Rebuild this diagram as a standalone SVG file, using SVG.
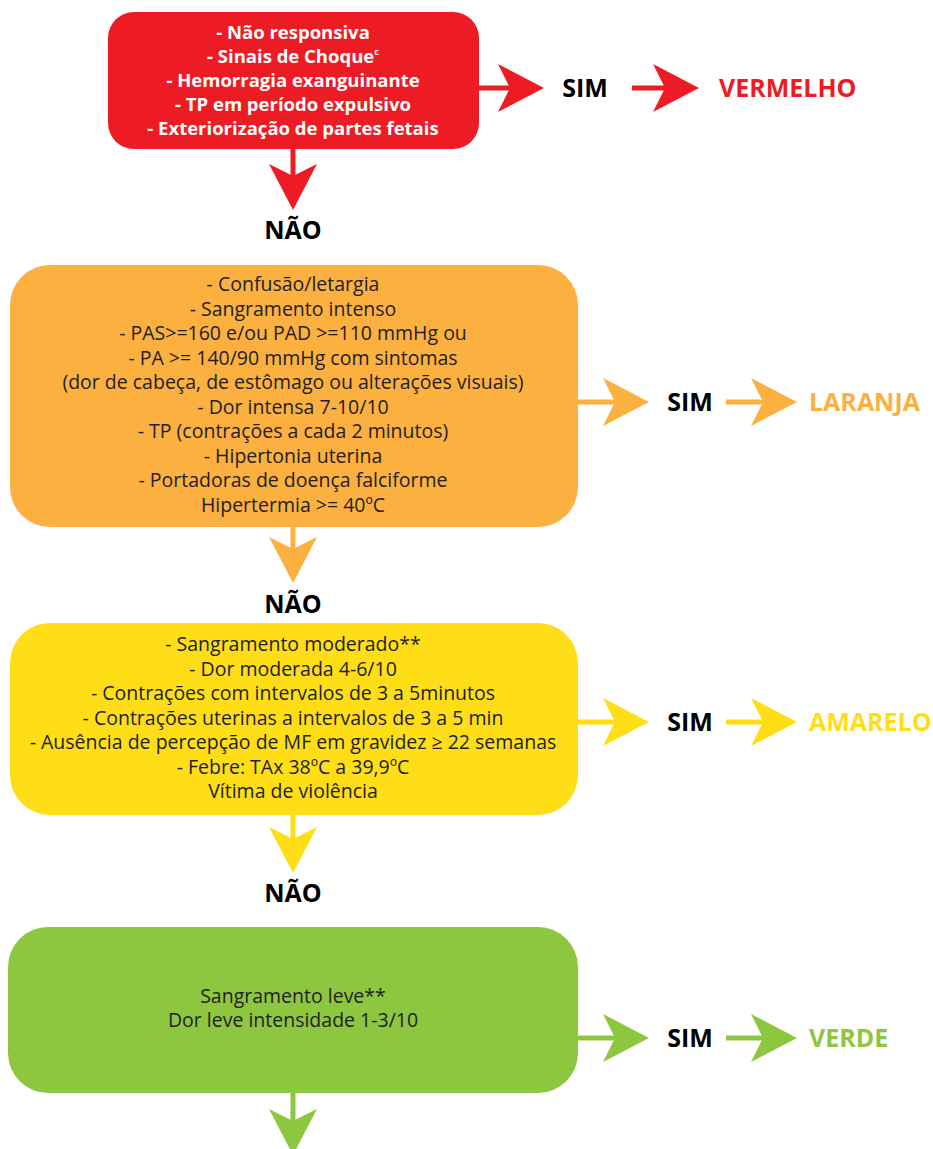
<svg xmlns="http://www.w3.org/2000/svg" width="933" height="1149" viewBox="0 0 933 1149">
<style>
.t{font-family:"Open Sans","Liberation Sans",sans-serif;font-size:19.5px;fill:#231f20;text-anchor:middle}
.tw{font-family:"Open Sans","Liberation Sans",sans-serif;font-size:18.5px;font-weight:bold;fill:#ffffff;text-anchor:middle}
.lb{font-family:"Open Sans","Liberation Sans",sans-serif;font-size:25px;font-weight:bold;fill:#000000;text-anchor:middle}
.cl{font-family:"Open Sans","Liberation Sans",sans-serif;font-size:25px;font-weight:bold;text-anchor:start}
.ln{stroke-width:5;fill:none}
</style>
<defs>
<path id="ah" d="M0,0 L-46,-24 L-34,0 L-46,24 Z"/>
</defs>
<rect width="933" height="1149" fill="#ffffff"/>

<g id="connectors">
  <g fill="#ed1c24">
    <line class="ln" stroke="#ed1c24" x1="479" y1="88" x2="520" y2="88"/>
    <use href="#ah" transform="translate(544,88)"/>
    <line class="ln" stroke="#ed1c24" x1="632" y1="88" x2="680" y2="88"/>
    <use href="#ah" transform="translate(699,88)"/>
    <line class="ln" stroke="#ed1c24" x1="293" y1="149" x2="293" y2="190"/>
    <use href="#ah" transform="translate(293,210) rotate(90)"/>
  </g>
  <g fill="#fbb040">
    <line class="ln" stroke="#fbb040" x1="578" y1="402" x2="625" y2="402"/>
    <use href="#ah" transform="translate(649,402)"/>
    <line class="ln" stroke="#fbb040" x1="726" y1="402" x2="775" y2="402"/>
    <use href="#ah" transform="translate(797,402)"/>
    <line class="ln" stroke="#fbb040" x1="293" y1="527" x2="293" y2="565"/>
    <use href="#ah" transform="translate(293,583) rotate(90)"/>
  </g>
  <g fill="#ffde17">
    <line class="ln" stroke="#ffde17" x1="578" y1="722" x2="625" y2="722"/>
    <use href="#ah" transform="translate(649,722)"/>
    <line class="ln" stroke="#ffde17" x1="726" y1="722" x2="775" y2="722"/>
    <use href="#ah" transform="translate(797,722)"/>
    <line class="ln" stroke="#ffde17" x1="293" y1="815" x2="293" y2="855"/>
    <use href="#ah" transform="translate(293,873) rotate(90)"/>
  </g>
  <g fill="#8dc63f">
    <line class="ln" stroke="#8dc63f" x1="578" y1="1038" x2="625" y2="1038"/>
    <use href="#ah" transform="translate(649,1038)"/>
    <line class="ln" stroke="#8dc63f" x1="726" y1="1038" x2="775" y2="1038"/>
    <use href="#ah" transform="translate(797,1038)"/>
    <line class="ln" stroke="#8dc63f" x1="293" y1="1093" x2="293" y2="1135"/>
    <use href="#ah" transform="translate(293,1155) rotate(90)"/>
  </g>
</g>

<g id="node-red">
  <rect x="108" y="12" width="371" height="137" rx="26" fill="#ed1c24"/>
  <text class="tw" x="293" y="39">- Não responsiva</text>
  <text class="tw" x="293" y="63">- Sinais de Choque<tspan font-size="9" dy="-8">c</tspan></text>
  <text class="tw" x="293" y="87">- Hemorragia exanguinante</text>
  <text class="tw" x="293" y="111">- TP em período expulsivo</text>
  <text class="tw" x="293" y="135">- Exteriorização de partes fetais</text>
</g>

<g id="label-red">
  <text class="lb" x="585" y="97">SIM</text>
  <text class="cl" x="719" y="97" fill="#ed1c24">VERMELHO</text>
  <text class="lb" x="293" y="239">NÃO</text>
</g>

<g id="node-orange">
  <rect x="10" y="265" width="568" height="262" rx="40" fill="#fbb040"/>
  <text class="t" x="293" y="291">- Confusão/letargia</text>
  <text class="t" x="293" y="315.5">- Sangramento intenso</text>
  <text class="t" x="293" y="340">- PAS&gt;=160 e/ou PAD &gt;=110 mmHg ou</text>
  <text class="t" x="293" y="364.5">- PA &gt;= 140/90 mmHg com sintomas</text>
  <text class="t" x="293" y="389">(dor de cabeça, de estômago ou alterações visuais)</text>
  <text class="t" x="293" y="413.5">- Dor intensa 7-10/10</text>
  <text class="t" x="293" y="438">- TP (contrações a cada 2 minutos)</text>
  <text class="t" x="293" y="462.5">- Hipertonia uterina</text>
  <text class="t" x="293" y="487">- Portadoras de doença falciforme</text>
  <text class="t" x="293" y="511.5">Hipertermia &gt;= 40ºC</text>
</g>

<g id="label-orange">
  <text class="lb" x="690" y="411">SIM</text>
  <text class="cl" x="809" y="411" fill="#fbb040">LARANJA</text>
  <text class="lb" x="293" y="613">NÃO</text>
</g>

<g id="node-yellow">
  <rect x="10" y="623" width="568" height="192" rx="40" fill="#ffde17"/>
  <text class="t" x="293" y="651">- Sangramento moderado**</text>
  <text class="t" x="293" y="675.5">- Dor moderada 4-6/10</text>
  <text class="t" x="293" y="700">- Contrações com intervalos de 3 a 5minutos</text>
  <text class="t" x="293" y="724.5">- Contrações uterinas a intervalos de 3 a 5 min</text>
  <text class="t" x="293" y="749">- Ausência de percepção de MF em gravidez ≥ 22 semanas</text>
  <text class="t" x="293" y="773.5">- Febre: TAx 38ºC a 39,9ºC</text>
  <text class="t" x="293" y="798">Vítima de violência</text>
</g>

<g id="label-yellow">
  <text class="lb" x="690" y="731">SIM</text>
  <text class="cl" x="809" y="731" fill="#ffde17">AMARELO</text>
  <text class="lb" x="293" y="902">NÃO</text>
</g>

<g id="node-green">
  <rect x="8" y="927" width="570" height="166" rx="40" fill="#8dc63f"/>
  <text class="t" x="293" y="1002.5">Sangramento leve**</text>
  <text class="t" x="293" y="1027">Dor leve intensidade 1-3/10</text>
</g>

<g id="label-green">
  <text class="lb" x="690" y="1047">SIM</text>
  <text class="cl" x="809" y="1047" fill="#8dc63f">VERDE</text>
</g>
</svg>
